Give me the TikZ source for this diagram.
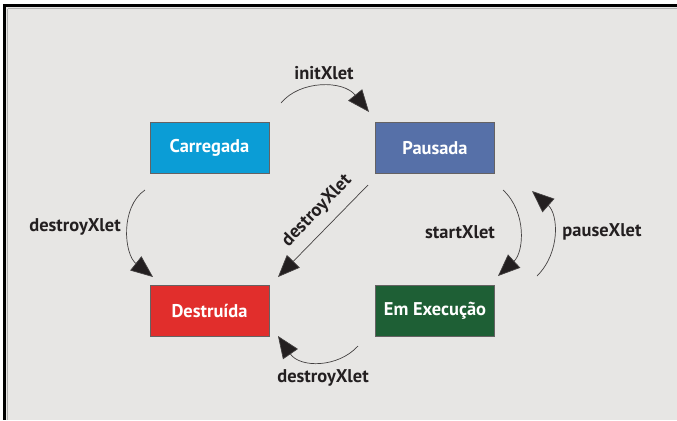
\documentclass[tikz,border=0pt]{standalone}
\usepackage{fontspec}
\setmainfont{PT Sans}
\usetikzlibrary{arrows.meta}
\definecolor{panel}{HTML}{E7E6E4}
\definecolor{cCarr}{HTML}{0B9DD6}
\definecolor{cPaus}{HTML}{5670A8}
\definecolor{cDest}{HTML}{E12E2C}
\definecolor{cExec}{HTML}{1E5F35}
\definecolor{ink}{HTML}{231F20}
\tikzset{
  state/.style={draw=ink!70, line width=0.6bp, minimum width=119bp, minimum height=51bp,
    inner sep=0pt, text=white, font=\fontsize{18.5}{22}\selectfont\bfseries},
  trans/.style={draw=ink!85, line width=0.7bp,
    -{Triangle[length=22bp,width=18bp,fill=ink]}},
  lbl/.style={text=ink, font=\fontsize{18.5}{22}\selectfont\bfseries, inner sep=0pt},
}
\begin{document}
\begin{tikzpicture}[x=1bp,y=-1bp]
  \useasboundingbox (0,0) rectangle (677,420);
  \fill[white] (0,0) rectangle (677,420);
  % framed panel, open to the right and bottom
  \fill[panel] (4.5,5.5) rectangle (677,420);
  \draw[gray!60, line width=1bp] (7.5,8.5) -- (677,8.5);
  \draw[gray!60, line width=1bp] (7.5,8.5) -- (7.5,420);
  \draw[black, line width=2.6bp] (677,5.5) -- (4.5,5.5) -- (4.5,420);

  % states
  \node[state, fill=cCarr] (carr) at (209.5,148) {Carregada};
  \node[state, fill=cPaus] (paus) at (435,148) {Pausada};
  \node[state, fill=cDest] (dest) at (209.5,310.5) {Destruída};
  \node[state, fill=cExec] (exec) at (435,310.5) {Em Execução};

  % connector end points
  \coordinate (iS) at (281,103);  \coordinate (iE) at (369,112);
  \coordinate (lS) at (145,190);  \coordinate (lE) at (153,277);
  \coordinate (dS) at (368,185);  \coordinate (dE) at (278,277);
  \coordinate (sS) at (503,190);  \coordinate (sE) at (498,276);
  \coordinate (pS) at (537,276);  \coordinate (pE) at (532,191);
  \coordinate (bS) at (358,346);  \coordinate (bE) at (278,336);

  % transitions
  \draw[trans] (iS) .. controls (300,80) and (343,80) .. (iE);
  \draw[trans] (lS) .. controls (120,207) and (124,254) .. (lE);
  \draw[trans] (dS) -- (dE);
  \draw[trans] (sS) .. controls (527,212) and (524,252) .. (sE);
  \draw[trans] (pS) .. controls (561,252) and (558,214) .. (pE);
  \draw[trans] (bS) .. controls (338,368) and (300,368) .. (bE);

  % labels
  \node[lbl] (li) at (324,73) {initXlet};
  \node[lbl] (ll) at (75,227) {destroyXlet};
  \node[lbl, rotate=46] (ld) at (317,211) {destroyXlet};
  \node[lbl] (ls) at (460,232) {startXlet};
  \node[lbl] (lp) at (602,232) {pauseXlet};
  \node[lbl] (lb) at (323,378) {destroyXlet};
\end{tikzpicture}
\end{document}
